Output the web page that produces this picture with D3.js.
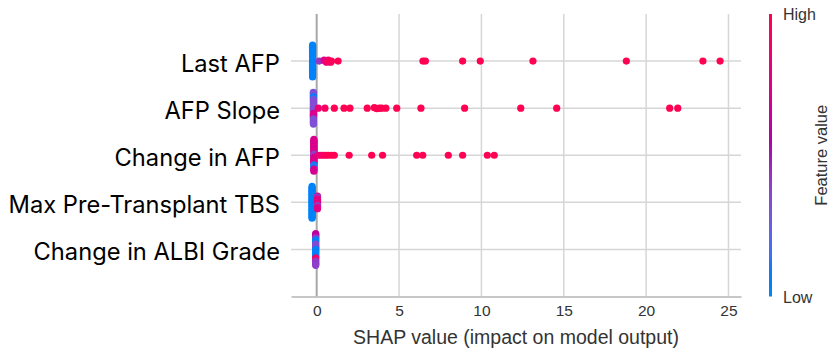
<!DOCTYPE html>
<html>
<head>
<meta charset="utf-8">
<script src="https://cdn.jsdelivr.net/npm/d3@7"></script>
<style>
  body { margin: 0; background: #fff; }
  svg { display: block; }
</style>
</head>
<body>
<svg id="chart" width="830" height="349"></svg>
<script>
// ---- data ---------------------------------------------------------------
const features = ["Last AFP", "AFP Slope", "Change in AFP", "Max Pre-Transplant TBS", "Change in ALBI Grade"];
const xTicks = [0, 5, 10, 15, 20, 25];

// SHAP value per patient and the matching normalised feature value (0 = low, 1 = high)
const lastAfpShap = [
  -0.25, -0.25, -0.25, -0.25, -0.25, -0.25, -0.25, -0.25, -0.25, -0.25, -0.25,
  -0.25, -0.25, -0.25, -0.25, -0.25, -0.25, -0.25, -0.25, -0.25, -0.25,
  -0.25, -0.25, -0.25, -0.25, -0.25, -0.25, -0.25, -0.25, -0.25, -0.25,
  0.15, 0.45, 0.5, 0.6, 0.7, 0.75, 0.85, 0.9, 1.3, 6.45, 6.6, 8.86, 9.93, 13.13, 18.8, 23.45, 24.49
];
const lastAfpLevel = [
  0.03, 0.05, 0.02, 0.04, 0.06, 0.03, 0.02, 0.05, 0.04, 0.03, 0.06,
  0.02, 0.04, 0.05, 0.03, 0.02, 0.04, 0.06, 0.03, 0.05, 0.02,
  0.04, 0.03, 0.05, 0.02, 0.06, 0.04, 0.03, 0.05, 0.02, 0.04,
  0.42, 0.72, 0.78, 0.85, 0.9, 0.93, 0.95, 0.97, 0.98, 1, 1, 1, 1, 1, 1, 1, 1
];

const afpSlopeShap = [
  -0.2, -0.2, -0.2, -0.2, -0.2, -0.2, -0.2, -0.2, -0.2, -0.2, -0.2,
  -0.2, -0.2, -0.2, -0.2, -0.2, -0.2, -0.2, -0.2, -0.2, -0.2,
  -0.2, -0.2, -0.2, -0.2, -0.2, -0.2, -0.2, -0.2, -0.2, -0.2,
  0.1, 0.5, 1.07, 1.66, 2.02, 3.07, 3.5, 3.65, 3.8, 3.95, 4.2, 4.86, 6.33, 8.98, 12.39, 14.57, 21.43, 21.92
];
const afpSlopeLevel = [
  0.33, 0.34, 0.32, 0.33, 0.1, 0.08, 0.12, 0.33, 0.34, 0.32, 0.33,
  0.35, 0.33, 0.34, 0.32, 0.33, 0.34, 0.33, 0.32, 0.35, 0.7,
  0.72, 0.75, 0.7, 0.68, 0.33, 0.34, 0.32, 0.33, 0.35, 0.33,
  0.85, 0.95, 1, 1, 1, 1, 1, 1, 1, 1, 1, 1, 1, 1, 1, 1, 1, 1
];

const changeAfpShap = [
  -0.17, -0.17, -0.17, -0.17, -0.17, -0.17, -0.17, -0.17, -0.17, -0.17, -0.17,
  -0.17, -0.17, -0.17, -0.17, -0.17, -0.17, -0.17, -0.17, -0.17, -0.17,
  -0.17, -0.17, -0.17, -0.17, -0.17, -0.17, -0.17, -0.17, -0.17, -0.17,
  0.1, 0.25, 0.4, 0.55, 0.7, 0.9, 1.07, 1.97, 3.34, 4.0, 6.07, 6.44, 7.99, 8.86, 10.36, 10.78
];
const changeAfpLevel = [
  0.72, 0.74, 0.7, 0.73, 0.72, 0.75, 0.71, 0.72, 0.74, 0.7, 0.73,
  0.72, 0.74, 0.71, 0.4, 0.38, 0.42, 0.72, 0.73, 0.7, 0.74,
  0.72, 0.71, 0.73, 0.1, 0.05, 0.15, 0.1, 0.72, 0.74, 0.7,
  0.8, 0.85, 0.9, 0.95, 1, 1, 1, 1, 1, 1, 1, 1, 1, 1, 1, 1
];

const tbsShap = [
  -0.28, -0.28, -0.28, -0.28, -0.28, -0.28, -0.28, -0.28, -0.28, -0.28, -0.28,
  -0.28, -0.28, -0.28, -0.28, -0.28, -0.28, -0.28, -0.28, -0.28, -0.28,
  -0.28, -0.28, -0.28, -0.28, -0.28, -0.28, -0.28, -0.28, -0.28, -0.28,
  0.05, 0.05, 0.05, 0.05, 0.05, 0.05, 0.05, 0.05, 0.05, 0.05, 0.05, 0.05, 0.05
];
const tbsLevel = [
  0.04, 0.03, 0.05, 0.02, 0.04, 0.06, 0.03, 0.05, 0.02, 0.04, 0.03,
  0.05, 0.04, 0.06, 0.03, 0.02, 0.05, 0.04, 0.03, 0.06, 0.02,
  0.04, 0.05, 0.03, 0.02, 0.04, 0.06, 0.03, 0.05, 0.02, 0.04,
  0.75, 0.4, 0.42, 0.78, 0.8, 0.76, 0.79, 0.77, 0.8, 0.4, 0.38, 0.75, 0.76
];

const albiShap = [
  -0.06, -0.06, -0.06, -0.06, -0.06, -0.06, -0.06, -0.06, -0.06, -0.06, -0.06,
  -0.06, -0.06, -0.06, -0.06, -0.06, -0.06, -0.06, -0.06, -0.06, -0.06,
  -0.06, -0.06, -0.06, -0.06, -0.06, -0.06, -0.06, -0.06, -0.06, -0.06
];
const albiLevel = [
  0.6, 0.58, 0.62, 0.6, 0.42, 0.4, 0.05, 0.04, 0.06, 0.05, 0.35,
  0.36, 0.34, 0.35, 0.37, 0.05, 0.04, 0.06, 0.05, 0.03, 0.05, 0.04,
  0.06, 0.92, 0.9, 0.93, 0.4, 0.38, 0.42, 0.4, 0.39
];

const shapByFeature = [lastAfpShap, afpSlopeShap, changeAfpShap, tbsShap, albiShap];
const levelByFeature = [lastAfpLevel, afpSlopeLevel, changeAfpLevel, tbsLevel, albiLevel];

// ---- layout -------------------------------------------------------------
const plot = { left: 291, right: 741, top: 14, bottom: 296.5 };
const svg = d3.select("#chart");

const x = d3.scaleLinear().domain([-1.56, 25.76]).range([plot.left, plot.right]);
const y = d3.scaleLinear().domain([-1, features.length]).range([plot.top, plot.bottom]);
const rowStep = y(1) - y(0);

// red/blue colour map in LCH space, darkening through the middle
const blueLch = { l: 54, c: 70, h: 266.93 };
const redLch = { l: 54, c: 90, h: 380.32 };
function redBlue(t) {
  const l = t < 0.5 ? blueLch.l + (40 - blueLch.l) * (t / 0.5) : 40 + (redLch.l - 40) * ((t - 0.5) / 0.5);
  const c = blueLch.c + (redLch.c - blueLch.c) * t;
  const h = (blueLch.h + (redLch.h - blueLch.h) * t) % 360;
  return d3.hcl(h, c, l).formatHex();
}

// ---- grid ---------------------------------------------------------------
const grid = svg.append("g");
grid.selectAll("line.v").data(xTicks.filter(d => d !== 0)).join("line")
  .attr("x1", d => x(d)).attr("x2", d => x(d))
  .attr("y1", plot.top).attr("y2", plot.bottom)
  .attr("stroke", "#d6d6d6").attr("stroke-width", 1.5);
grid.selectAll("line.h").data(features).join("line")
  .attr("x1", plot.left).attr("x2", plot.right)
  .attr("y1", (d, i) => y(i)).attr("y2", (d, i) => y(i))
  .attr("stroke", "#d6d6d6").attr("stroke-width", 1.5);
grid.append("line")
  .attr("x1", x(0)).attr("x2", x(0))
  .attr("y1", plot.top).attr("y2", plot.bottom)
  .attr("stroke", "#a8a8a8").attr("stroke-width", 2);

// ---- x axis -------------------------------------------------------------
const xAxis = svg.append("g")
  .attr("transform", `translate(0,${plot.bottom})`)
  .call(d3.axisBottom(x).tickValues(xTicks).tickSize(0).tickPadding(8).tickSizeOuter(0));
xAxis.select(".domain").attr("stroke", "#b5b5b5").attr("stroke-width", 1.5);
xAxis.selectAll("text")
  .attr("font-family", "Liberation Sans, Arial, sans-serif")
  .attr("font-size", 15.5).attr("fill", "#333");

svg.append("text")
  .attr("x", (x(-1.56) + x(25.76)) / 2).attr("y", 344)
  .attr("text-anchor", "middle")
  .attr("font-family", "Liberation Sans, Arial, sans-serif")
  .attr("font-size", 19.5).attr("fill", "#333")
  .text("SHAP value (impact on model output)");

// ---- feature names ------------------------------------------------------
svg.append("g").selectAll("text").data(features).join("text")
  .attr("x", 280).attr("y", (d, i) => y(i) + 10.5)
  .attr("text-anchor", "end")
  .attr("font-family", "Inter, Lato, sans-serif")
  .attr("font-size", 23.7).attr("fill", "#000")
  .text(d => d);

// ---- beeswarm dots ------------------------------------------------------
const nbins = 100;
const dotsG = svg.append("g");
features.forEach((name, i) => {
  const vals = shapByFeature[i];
  const lv = levelByFeature[i];
  const lo = d3.min(vals), hi = d3.max(vals);
  const span = hi - lo || 1;
  const bins = d3.group(vals.map((v, j) => ({ v, lv: lv[j], j })),
    d => Math.round(nbins * (d.v - lo) / span));
  let maxHalf = 0;
  bins.forEach(b => { maxHalf = Math.max(maxHalf, (b.length - 1) / 2); });
  const gap = 0.9 * 0.4 * rowStep / (maxHalf + 1);
  const pts = [];
  bins.forEach(b => b.forEach((d, k) => pts.push({ ...d, off: (k - (b.length - 1) / 2) * gap })));
  pts.sort((a, b) => a.j - b.j);
  dotsG.append("g").selectAll("circle").data(pts).join("circle")
    .attr("cx", d => x(d.v))
    .attr("cy", d => y(i) + d.off)
    .attr("r", 3.6)
    .attr("fill", d => redBlue(d.lv));
});

// ---- colour bar ---------------------------------------------------------
const cb = { x: 769, w: 3, top: 14, bottom: 296.5 };
const grad = svg.append("defs").append("linearGradient")
  .attr("id", "fv-grad").attr("x1", 0).attr("x2", 0).attr("y1", 1).attr("y2", 0);
grad.selectAll("stop").data(d3.range(0, 1.0001, 0.05)).join("stop")
  .attr("offset", d => d).attr("stop-color", d => redBlue(d));
svg.append("rect")
  .attr("x", cb.x).attr("y", cb.top).attr("width", cb.w).attr("height", cb.bottom - cb.top)
  .attr("fill", "url(#fv-grad)");
const cbText = svg.append("g")
  .attr("font-family", "Liberation Sans, Arial, sans-serif")
  .attr("font-size", 16).attr("fill", "#333");
cbText.append("text").attr("x", 783).attr("y", cb.top + 6).text("High");
cbText.append("text").attr("x", 783).attr("y", cb.bottom + 6).text("Low");
cbText.append("text")
  .attr("transform", `translate(827,${(cb.top + cb.bottom) / 2}) rotate(-90)`)
  .attr("text-anchor", "middle").attr("font-size", 16.5)
  .text("Feature value");
</script>
</body>
</html>
